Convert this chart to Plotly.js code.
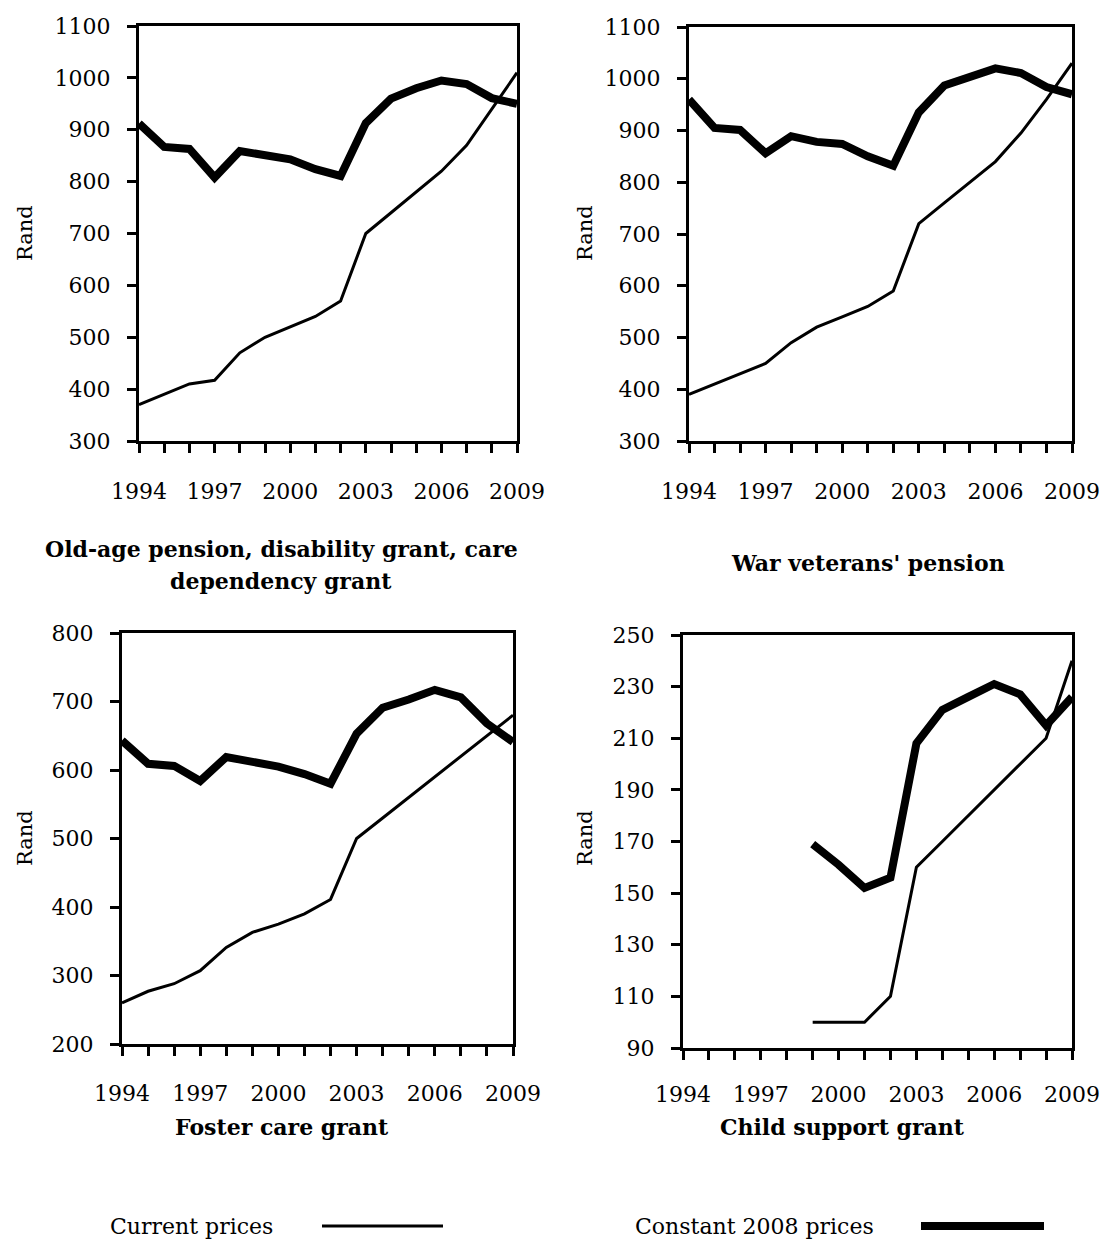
<!DOCTYPE html>
<html>
<head>
<meta charset="utf-8">
<script src="https://cdn.plot.ly/plotly-3.0.1.min.js"></script>
<style>
  html, body { margin: 0; padding: 0; background: #fff; }
  #chart { width: 1102px; height: 1241px; }
</style>
</head>
<body>
<div id="chart"></div>
<script>
// ---- Data ----
const years = [1994, 1995, 1996, 1997, 1998, 1999, 2000, 2001, 2002, 2003, 2004, 2005, 2006, 2007, 2008, 2009];
const xTickVals = [1994, 1997, 2000, 2003, 2006, 2009];

// Old-age pension, disability grant, care dependency grant
const oapCurrent  = [370, 390, 410, 417, 470, 500, 520, 540, 570, 700, 740, 780, 820, 870, 940, 1010];
const oapConstant = [912, 867, 863, 808, 859, 852, 843, 824, 811, 913, 960, 980, 995, 988, 961, 950];

// War veterans' pension
const wvpCurrent  = [390, 410, 430, 450, 490, 520, 540, 560, 590, 720, 760, 800, 840, 895, 960, 1030];
const wvpConstant = [960, 905, 901, 856, 889, 878, 874, 850, 832, 935, 987, 1003, 1020, 1011, 984, 970];

// Foster care grant
const fcgCurrent  = [260, 277, 288, 307, 341, 363, 375, 390, 411, 500, 530, 560, 590, 620, 650, 680];
const fcgConstant = [643, 609, 606, 584, 619, 611, 605, 594, 580, 653, 691, 703, 717, 706, 668, 641];

// Child support grant
const csgYears    = [1999, 2000, 2001, 2002, 2003, 2004, 2005, 2006, 2007, 2008, 2009];
const csgCurrent  = [100, 100, 100, 110, 160, 170, 180, 190, 200, 210, 240];
const csgConstant = [169, 161, 152, 156, 208, 221, 226, 231, 227, 215, 226];

const panelTitles = [
  ["Old-age pension, disability grant, care", "dependency grant"],
  ["War veterans' pension"],
  ["Foster care grant"],
  ["Child support grant"]
];
const seriesNames = ["Current prices", "Constant 2008 prices"];
const yAxisLabel = "Rand";

// ---- Layout helpers ----
const W = 1102, H = 1241;
const FONT = "DejaVu Serif";
const px = x => x / W;
const py = y => 1 - y / H;

const THIN = 3, THICK = 8;

function lineTrace(x, y, width, xa, ya, name) {
  return {
    x: x, y: y, type: 'scatter', mode: 'lines', name: name,
    line: { color: '#000', width: width },
    xaxis: xa, yaxis: ya, showlegend: false, hoverinfo: 'x+y'
  };
}

const data = [
  lineTrace(years, oapCurrent, THIN, 'x', 'y', seriesNames[0]),
  lineTrace(years, oapConstant, THICK, 'x', 'y', seriesNames[1]),
  lineTrace(years, wvpCurrent, THIN, 'x2', 'y2', seriesNames[0]),
  lineTrace(years, wvpConstant, THICK, 'x2', 'y2', seriesNames[1]),
  lineTrace(years, fcgCurrent, THIN, 'x3', 'y3', seriesNames[0]),
  lineTrace(years, fcgConstant, THICK, 'x3', 'y3', seriesNames[1]),
  lineTrace(csgYears, csgCurrent, THIN, 'x4', 'y4', seriesNames[0]),
  lineTrace(csgYears, csgConstant, THICK, 'x4', 'y4', seriesNames[1])
];

function xAxis(domPx, anchor, standoff) {
  return {
    domain: [px(domPx[0]), px(domPx[1])], anchor: anchor,
    range: [1994, 2009], tickmode: 'array', tickvals: xTickVals,
    ticks: 'outside', ticklen: 9, tickwidth: 3, tickcolor: '#000',
    minor: { dtick: 1, tick0: 1994, ticks: 'outside', ticklen: 9, tickwidth: 3, tickcolor: '#000' },
    showline: true, linewidth: 3, linecolor: '#000', mirror: true,
    showgrid: false, zeroline: false, ticklabelstandoff: standoff,
    tickfont: { family: FONT, size: 22, color: '#000' }
  };
}
function yAxis(domPx, anchor, range, dtick) {
  return {
    domain: [py(domPx[1]), py(domPx[0])], anchor: anchor,
    range: range, dtick: dtick, tick0: range[0],
    ticks: 'outside', ticklen: 9, tickwidth: 3, tickcolor: '#000',
    showline: true, linewidth: 3, linecolor: '#000', mirror: true,
    showgrid: false, zeroline: false, ticklabelstandoff: 12,
    tickfont: { family: FONT, size: 22, color: '#000' }
  };
}

const titleFont = { family: FONT, size: 22, color: '#000', weight: 'bold' };
const labelFont = { family: FONT, size: 21, color: '#000' };
const legendFont = { family: FONT, size: 22, color: '#000' };

function ann(text, x, y, font, extra) {
  return Object.assign({
    text: text, xref: 'paper', yref: 'paper', x: px(x), y: py(y),
    xanchor: 'center', yanchor: 'middle', showarrow: false, font: font
  }, extra || {});
}

const layout = {
  width: W, height: H,
  margin: { l: 0, r: 0, t: 0, b: 0 },
  paper_bgcolor: '#fff', plot_bgcolor: '#fff',
  showlegend: false,
  xaxis:  xAxis([139, 517], 'y', 20),
  yaxis:  yAxis([26, 441], 'x', [300, 1100], 100),
  xaxis2: xAxis([689, 1072], 'y2', 20),
  yaxis2: yAxis([27, 441], 'x2', [300, 1100], 100),
  xaxis3: xAxis([122, 513], 'y3', 19),
  yaxis3: yAxis([633, 1044], 'x3', [200, 800], 100),
  xaxis4: xAxis([683, 1072], 'y4', 16),
  yaxis4: yAxis([635, 1048], 'x4', [90, 250], 20),
  annotations: [
    ann(panelTitles[0][0], 281, 549, titleFont),
    ann(panelTitles[0][1], 281, 581, titleFont),
    ann(panelTitles[1][0], 868, 563, titleFont),
    ann(panelTitles[2][0], 282, 1127, titleFont),
    ann(panelTitles[3][0], 842, 1127, titleFont),
    ann(yAxisLabel, 25, 233, labelFont, { textangle: -90 }),
    ann(yAxisLabel, 585, 233, labelFont, { textangle: -90 }),
    ann(yAxisLabel, 25, 838, labelFont, { textangle: -90 }),
    ann(yAxisLabel, 585, 838, labelFont, { textangle: -90 }),
    ann(seriesNames[0], 275, 1226, legendFont, { xanchor: 'right' }),
    ann(seriesNames[1], 876, 1226, legendFont, { xanchor: 'right' })
  ],
  shapes: [
    { type: 'line', xref: 'paper', yref: 'paper', x0: px(322), x1: px(443), y0: py(1226), y1: py(1226), line: { color: '#000', width: THIN } },
    { type: 'line', xref: 'paper', yref: 'paper', x0: px(921), x1: px(1044), y0: py(1226), y1: py(1226), line: { color: '#000', width: THICK } }
  ]
};

Plotly.newPlot('chart', data, layout, { staticPlot: true, displayModeBar: false });
</script>
</body>
</html>
